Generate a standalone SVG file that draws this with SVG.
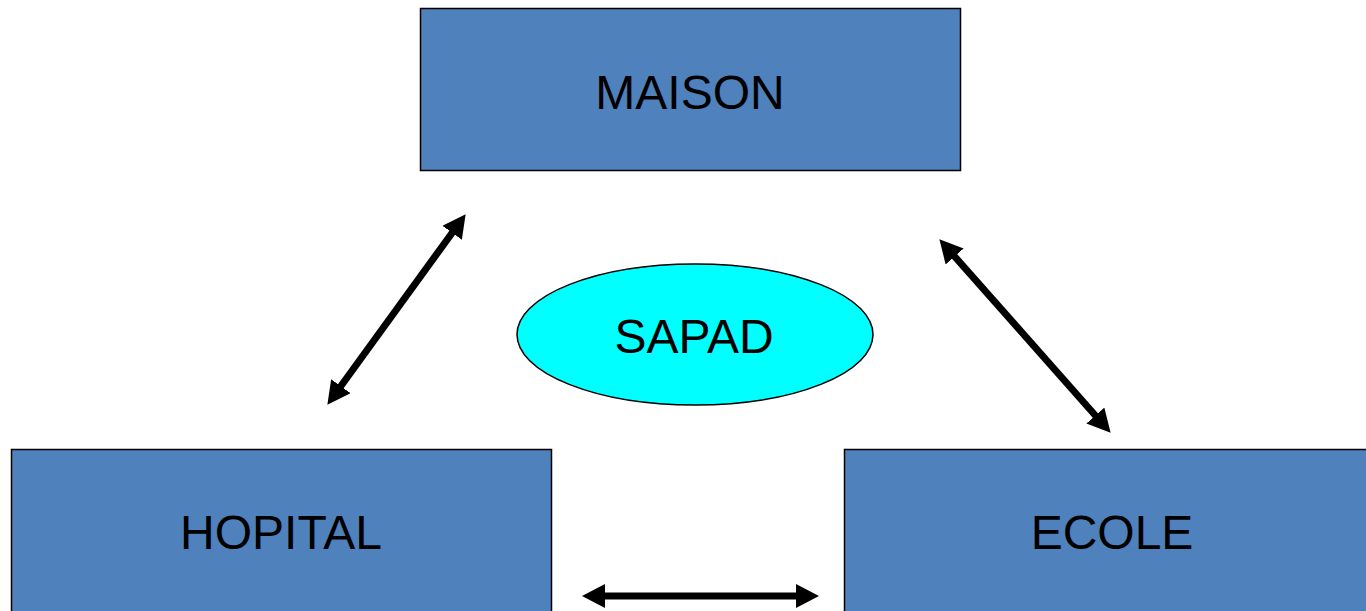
<svg xmlns="http://www.w3.org/2000/svg" width="1366" height="611" viewBox="0 0 1366 611">
  <style>
    .box { fill: #4F81BD; stroke: #000; stroke-width: 1.5; }
    .oval { fill: #00FFFF; stroke: #000; stroke-width: 1.5; }
    .label { font-family: "Liberation Sans", Arial, sans-serif; font-size: 48px; fill: #000; text-anchor: middle; }
    .conn { stroke: #000; stroke-width: 7; fill: none; marker-start: url(#ah); marker-end: url(#ah); }
  </style>
  <defs>
    <marker id="ah" markerUnits="userSpaceOnUse" markerWidth="24" markerHeight="24" viewBox="0 0 24 24" refX="2" refY="12" orient="auto-start-reverse">
      <path d="M0,0 L23,12 L0,24 z" fill="#000"/>
    </marker>
  </defs>
  <rect width="1366" height="611" fill="#fff"/>
  <g id="maison">
    <rect class="box" x="420.5" y="8.5" width="540" height="162"/>
    <text class="label" x="690" y="109">MAISON</text>
  </g>
  <g id="hopital">
    <rect class="box" x="11.5" y="449.5" width="540" height="170"/>
    <text class="label" x="281" y="549">HOPITAL</text>
  </g>
  <g id="ecole">
    <rect class="box" x="844.5" y="449.5" width="540" height="170"/>
    <text class="label" x="1112" y="549">ECOLE</text>
  </g>
  <g id="sapad">
    <ellipse class="oval" cx="695" cy="334.5" rx="178" ry="70.5"/>
    <text class="label" x="694" y="353">SAPAD</text>
  </g>
  <g id="connectors">
    <line class="conn" x1="339.7" y1="387.8" x2="453.3" y2="231.2"/>
    <line class="conn" x1="953.3" y1="255.0" x2="1096.7" y2="417.0"/>
    <line class="conn" x1="603" y1="596" x2="798" y2="596"/>
  </g>
</svg>
